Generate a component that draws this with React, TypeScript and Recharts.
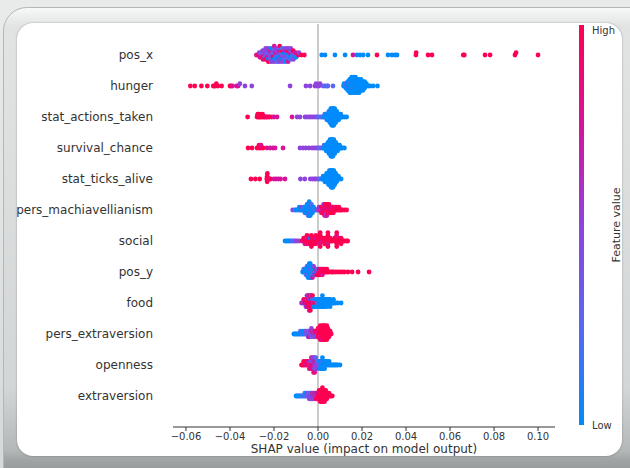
import { ScatterChart, Scatter, XAxis, YAxis, ReferenceLine, Customized } from "recharts";

// SHAP values in thousandths, then feature value bucket: 0 = low ... 4 = high
const posX = [
  [-28, 3],
  [-27, 4], [-26.7, 2], [-26.4, 3],
  [-25.8, 2], [-25.6, 1], [-25.4, 4], [-25.2, 2], [-25, 3],
  [-24.5, 3], [-24.3, 2], [-24.2, 1], [-24.1, 2], [-24, 4], [-23.8, 2],
  [-23.2, 2], [-23.1, 1], [-23, 3], [-22.9, 2], [-22.8, 0], [-22.7, 2], [-22.6, 4],
  [-21.9, 1], [-21.8, 2], [-21.7, 2], [-21.6, 3], [-21.5, 1], [-21.4, 0], [-21.3, 2],
  [-20.6, 2], [-20.5, 1], [-20.4, 4], [-20.3, 2], [-20.2, 0], [-20.1, 1], [-20, 2], [-19.9, 3],
  [-19.3, 2], [-19.2, 3], [-19.1, 1], [-19, 2], [-18.9, 0], [-18.8, 2], [-18.7, 1],
  [-18.1, 1], [-18, 2], [-17.9, 0], [-17.8, 3], [-17.7, 2], [-17.6, 1], [-17.5, 2], [-17.4, 4],
  [-16.8, 2], [-16.7, 1], [-16.6, 2], [-16.5, 4], [-16.4, 0], [-16.3, 1], [-16.2, 2],
  [-15.5, 1], [-15.4, 0], [-15.3, 2], [-15.2, 3], [-15.1, 1], [-15, 2], [-14.9, 0],
  [-14.2, 2], [-14.1, 0], [-14, 1], [-13.9, 4], [-13.8, 1], [-13.7, 2], [-13.6, 3],
  [-12.9, 1], [-12.8, 3], [-12.7, 0], [-12.6, 2], [-12.5, 1], [-12.4, 2],
  [-11.6, 0], [-11.5, 2], [-11.4, 1], [-11.3, 4], [-11.2, 2],
  [-10.3, 1], [-10.1, 3], [-10, 0],
  [-8.9, 4], [-8.7, 2], [-7.5, 4], [-6.2, 4],
  [1.7, 0], [3.2, 0], [7.7, 0], [12.3, 0], [15.9, 3], [17.7, 0], [19.1, 0], [20.5, 0],
  [22.7, 0], [26.8, 4], [31.8, 0], [33.6, 0], [35, 0], [35.9, 0], [44.5, 4], [44.6, 4],
  [50, 4], [51.8, 4], [66, 4], [66.5, 4], [75.9, 4], [78.2, 4], [89.5, 4], [90, 4], [100, 4],
];

const hunger = [
  [-58, 4], [-56, 4], [-53, 4], [-50.3, 4], [-47.6, 4], [-47.2, 4], [-46.5, 4], [-46.2, 4],
  [-45.5, 4], [-43.8, 4], [-40, 4], [-39.5, 4], [-38.8, 3], [-36.9, 3], [-36.3, 3], [-35.5, 2],
  [-33.2, 2], [-30.1, 2],
  [-12.7, 2], [-5.5, 2], [-3.6, 2], [-1.4, 2], [-0.9, 2], [-0.5, 2], [0.4, 2], [0.9, 2],
  [2.3, 1], [3.2, 1], [4.1, 1], [4.5, 1], [6.8, 1],
  [11.6, 0], [11.8, 0],
  [12.4, 0], [12.55, 1], [12.7, 0],
  [13.2, 0], [13.3, 0], [13.4, 1], [13.5, 0], [13.6, 0],
  [14.05, 0], [14.1, 0], [14.2, 0], [14.25, 1], [14.3, 0], [14.4, 0], [14.45, 0],
  [14.9, 0], [15, 0], [15, 0], [15.1, 0], [15.1, 0], [15.2, 0], [15.2, 0], [15.3, 0],
  [15.75, 0], [15.85, 0], [15.9, 1], [15.95, 0], [16, 0], [16, 0], [16.1, 0], [16.15, 0],
  [16.6, 0], [16.7, 0], [16.75, 0], [16.8, 0], [16.85, 0], [16.9, 0], [16.95, 0], [17, 0],
  [17.45, 0], [17.55, 0], [17.6, 0], [17.65, 0], [17.7, 0], [17.8, 0], [17.85, 0],
  [18.3, 0], [18.4, 0], [18.45, 0], [18.5, 0], [18.55, 0], [18.6, 0], [18.7, 0],
  [19.15, 0], [19.25, 0], [19.35, 0], [19.4, 0], [19.5, 0], [19.55, 0],
  [20, 0], [20.1, 0], [20.2, 0], [20.3, 0], [20.4, 0],
  [20.9, 0], [21, 0], [21.1, 0], [21.2, 0],
  [21.8, 0], [22, 0], [22.75, 0], [23.6, 0], [25, 0], [27, 0],
];

const statActionsTaken = [
  [-32, 4], [-27.7, 4], [-27.4, 4], [-27.2, 4], [-27.2, 4], [-26.6, 4], [-26.3, 4], [-26.3, 4],
  [-25.8, 4], [-25.2, 4], [-25.2, 4], [-24.6, 4], [-24.2, 4], [-23.6, 4], [-23.2, 4], [-22.5, 3],
  [-22, 4], [-21, 4], [-20, 3], [-18.6, 3],
  [-11.8, 3], [-9.5, 2], [-8.2, 2], [-5.9, 2], [-5, 2], [-4, 2], [-3.2, 2], [-2.3, 2],
  [-1.4, 2], [-0.5, 2], [0, 1], [0.9, 1], [1.6, 1],
  [2.2, 1], [2.65, 0], [3.1, 0], [3.1, 1], [3.55, 0], [3.55, 0], [4, 0], [4, 0], [4, 1],
  [4.45, 0], [4.45, 0], [4.45, 0], [4.9, 0], [4.9, 0], [4.9, 0], [4.9, 1],
  [5.35, 0], [5.35, 0], [5.35, 0], [5.35, 0], [5.35, 0],
  [5.8, 0], [5.8, 0], [5.8, 0], [5.8, 0], [5.8, 0], [5.8, 0],
  [6.25, 0], [6.25, 0], [6.25, 0], [6.25, 0], [6.25, 0], [6.25, 0], [6.25, 0],
  [6.7, 0], [6.7, 0], [6.7, 0], [6.7, 0], [6.7, 0], [6.7, 0], [6.7, 0],
  [7.15, 0], [7.15, 0], [7.15, 0], [7.15, 0], [7.15, 0], [7.15, 0], [7.15, 0],
  [7.6, 0], [7.6, 0], [7.6, 0], [7.6, 0], [7.6, 0], [7.6, 0],
  [8.05, 0], [8.05, 0], [8.05, 0], [8.05, 0], [8.05, 0],
  [8.5, 0], [8.5, 0], [8.5, 0], [8.5, 0],
  [8.95, 0], [8.95, 0], [8.95, 0], [9.4, 0], [9.4, 0], [9.4, 0],
  [9.85, 0], [9.85, 0], [10.3, 0], [10.3, 0], [10.75, 0], [11.2, 0], [12.1, 0], [13, 0],
];

const survivalChance = [
  [-31.8, 4], [-30, 4], [-27.7, 4], [-26.8, 4], [-26.8, 4], [-25.9, 4], [-25.9, 3], [-25, 4],
  [-23.2, 3], [-21.8, 3], [-20.5, 3], [-19.5, 3], [-15.9, 3],
  [-8.2, 2], [-6.8, 2], [-5.5, 2], [-4.1, 2], [-2.7, 2], [-1.8, 2], [-0.9, 2], [0, 2],
  [0.5, 1], [1.1, 1],
  [1.93, 1], [2.36, 0], [2.8, 0], [2.8, 1], [3.24, 0], [3.24, 0],
  [3.68, 0], [3.68, 0], [3.68, 0], [4.12, 0], [4.12, 0], [4.12, 0],
  [4.55, 0], [4.55, 0], [4.55, 0], [4.55, 0],
  [4.99, 0], [4.99, 0], [4.99, 0], [4.99, 0], [4.99, 0],
  [5.43, 0], [5.43, 0], [5.43, 0], [5.43, 0], [5.43, 0], [5.43, 0],
  [5.87, 0], [5.87, 0], [5.87, 0], [5.87, 0], [5.87, 0], [5.87, 0], [5.87, 0],
  [6.31, 0], [6.31, 0], [6.31, 0], [6.31, 0], [6.31, 0], [6.31, 0], [6.31, 0],
  [6.74, 0], [6.74, 0], [6.74, 0], [6.74, 0], [6.74, 0], [6.74, 0], [6.74, 0],
  [7.18, 0], [7.18, 0], [7.18, 0], [7.18, 0], [7.18, 0], [7.18, 0],
  [7.62, 0], [7.62, 0], [7.62, 0], [7.62, 0], [7.62, 0],
  [8.06, 0], [8.06, 0], [8.06, 0], [8.06, 0], [8.5, 0], [8.5, 0], [8.5, 0],
  [8.93, 0], [8.93, 0], [8.93, 0], [9.37, 0], [9.37, 0], [9.81, 0], [9.81, 0],
  [10.25, 0], [10.69, 0], [11.12, 0], [12, 0],
];

const statTicksAlive = [
  [-30.5, 4], [-28.5, 4], [-26.5, 4], [-23.3, 4], [-23.1, 4], [-23.1, 4], [-23, 4], [-22, 3],
  [-21.5, 4], [-20, 3], [-19, 3], [-18, 3], [-17, 3], [-15, 3],
  [-8, 2], [-6, 2], [-3.5, 2], [-2.5, 2], [-1.5, 2], [-1, 2], [0, 2], [0.6, 1],
  [1.48, 1], [1.89, 0], [2.3, 0], [2.3, 1], [2.71, 0], [2.71, 0],
  [3.12, 0], [3.12, 0], [3.12, 0], [3.53, 0], [3.53, 0], [3.53, 0],
  [3.94, 0], [3.94, 0], [3.94, 0], [3.94, 0], [4.35, 0], [4.35, 0], [4.35, 0], [4.35, 0],
  [4.76, 0], [4.76, 0], [4.76, 0], [4.76, 0], [4.76, 0],
  [5.17, 0], [5.17, 0], [5.17, 0], [5.17, 0], [5.17, 0], [5.17, 0],
  [5.58, 0], [5.58, 0], [5.58, 0], [5.58, 0], [5.58, 0], [5.58, 0],
  [5.99, 0], [5.99, 0], [5.99, 0], [5.99, 0], [5.99, 0], [5.99, 0], [5.99, 0],
  [6.4, 0], [6.4, 0], [6.4, 0], [6.4, 0], [6.4, 0], [6.4, 0], [6.4, 0],
  [6.81, 0], [6.81, 0], [6.81, 0], [6.81, 0], [6.81, 0], [6.81, 0], [6.81, 0],
  [7.22, 0], [7.22, 0], [7.22, 0], [7.22, 0], [7.22, 0], [7.22, 0],
  [7.63, 0], [7.63, 0], [7.63, 0], [7.63, 0], [7.63, 0],
  [8.04, 0], [8.04, 0], [8.04, 0], [8.04, 0], [8.45, 0], [8.45, 0], [8.45, 0],
  [8.86, 0], [8.86, 0], [9.27, 0], [9.27, 0], [9.68, 0], [10.5, 0],
];

const persMachiavellianism = [
  [-11.5, 2], [-10.5, 1], [-10, 0], [-9.25, 0], [-8.5, 1], [-8.5, 0], [-8, 0], [-7.5, 0],
  [-7.5, 2], [-7, 0], [-6.5, 0], [-6.5, 1], [-6, 0], [-6, 0], [-6, 1], [-5.5, 0], [-5.5, 0],
  [-5.5, 0], [-5, 0], [-5, 0], [-5, 0], [-5, 1], [-4.5, 0], [-4.5, 0], [-4.5, 0], [-4.5, 0],
  [-4.5, 1], [-4, 0], [-4, 0], [-4, 2], [-4, 0], [-4, 0], [-4, 0], [-3.5, 0], [-3.5, 0],
  [-3.5, 1], [-3.5, 0], [-3.5, 0], [-3, 0], [-3, 0], [-3, 0], [-3, 1], [-2.5, 0], [-2.5, 1],
  [-2.5, 0], [-2, 0], [-2, 0], [-1.5, 1], [-1, 0], [-0.5, 2],
  [0, 2], [0.5, 2], [0.5, 3], [1, 3], [1, 2], [1.5, 2], [1.5, 4], [1.5, 3], [2, 3], [2, 4],
  [2, 4], [2.5, 4], [2.5, 3], [2.5, 4], [2.5, 2], [3, 3], [3, 4], [3, 4], [3, 3], [3, 4],
  [3.5, 4], [3.5, 3], [3.5, 4], [3.5, 4], [3.5, 2], [4, 4], [4, 4], [4, 2], [4, 4], [4, 3],
  [4.5, 4], [4.5, 3], [4.5, 4], [4.5, 4], [5, 4], [5, 4], [5, 3], [5, 4], [5.5, 3], [5.5, 4],
  [5.5, 4], [6, 4], [6, 4], [6, 4], [6.5, 4], [6.5, 3], [7, 4], [7, 4], [7, 4], [7.5, 4],
  [7.5, 4], [8, 4], [8, 3], [8.5, 4], [8.5, 4], [9, 4], [9.5, 4], [9.5, 4], [10, 4],
  [10.5, 4], [11, 4], [12, 4], [13, 4],
];

const social = [
  [-15, 0], [-14.3, 0], [-13.6, 0], [-13, 0], [-12.3, 0], [-11.6, 1], [-10.9, 1], [-10.2, 2],
  [-9.5, 2], [-8.5, 2],
  [-7.2, 4], [-6.5, 3], [-6.5, 4], [-6, 4], [-6, 4], [-6, 3], [-5.5, 4], [-5.5, 4], [-5, 4],
  [-5, 3], [-5, 4], [-5, 4], [-4.5, 4], [-4, 4], [-4, 4], [-4, 3], [-3.5, 4], [-3.5, 0],
  [-3.5, 4], [-3, 4], [-3, 3], [-3, 4], [-3, 4], [-3, 4], [-2.5, 4], [-2, 4], [-2, 4], [-2, 4],
  [-1.5, 4], [-1.5, 4], [-1, 4], [-1, 3], [-1, 4], [-1, 4], [-0.5, 4], [0, 4], [0, 4],
  [0.5, 4], [1, 4], [1, 4], [1, 3], [1, 4], [1, 4], [1, 4], [1.5, 4], [1.5, 4], [2, 3],
  [2, 4], [2.5, 4], [3, 4], [3, 4], [3, 4], [3.5, 4], [4, 4], [4, 4], [4.5, 4], [4.5, 4],
  [4.5, 3], [4.5, 4], [4.5, 4], [4.5, 4], [5, 4], [5.5, 4], [5.5, 4], [6, 4], [6.5, 4],
  [7.5, 4], [7.5, 4], [8, 4], [8.5, 4], [8.5, 4], [8.5, 4], [8.5, 3], [8.5, 4], [8.5, 4],
  [9, 4], [9.5, 4], [9.5, 4], [10, 4], [10.5, 4], [10.5, 4], [10.5, 4], [11, 4], [11.5, 4],
  [12, 4], [13, 4], [13.5, 4],
];

const posY = [
  [-7, 0], [-6.5, 0], [-6.5, 1], [-6, 0], [-6, 0], [-5.5, 0], [-5.5, 0], [-5.5, 1],
  [-5, 0], [-5, 0], [-5, 0], [-5, 2], [-4.5, 0], [-4.5, 0], [-4.5, 1], [-4.5, 0], [-4.5, 0],
  [-4, 0], [-4, 0], [-4, 0], [-4, 2], [-4, 0], [-4, 0], [-3.5, 0], [-3.5, 1], [-3.5, 0],
  [-3.5, 0], [-3.5, 0], [-3.5, 0], [-3, 0], [-3, 2], [-3, 0], [-3, 0], [-3, 0],
  [-2.5, 0], [-2.5, 0], [-2.5, 1], [-2.5, 0], [-2.5, 3], [-2, 1], [-2, 0], [-2, 0], [-2, 2],
  [-1.5, 2], [-1.5, 0], [-1.5, 3], [-1, 0], [-1, 3], [-1, 2], [-0.5, 2], [-0.5, 0],
  [-0.5, 4], [0, 3], [0, 1], [0, 4],
  [0.5, 3], [0.5, 4], [0.5, 4], [1, 4], [1, 3], [1, 4], [1.5, 3], [1.5, 4], [2, 4], [2, 4],
  [2, 3], [2.5, 4], [2.5, 3], [3, 4], [3, 4], [3.5, 4], [4, 4], [4, 4], [4.5, 4], [5, 4],
  [6, 4], [6.5, 4], [7, 4], [8, 4], [9, 4], [10, 4], [11, 4], [12, 4], [13.6, 4], [15.5, 4],
  [18.2, 4], [23.2, 4],
];

const food = [
  [-7.5, 2], [-7, 3], [-6.5, 2], [-6.5, 4], [-6, 4], [-6, 3], [-5.5, 3], [-5.5, 4], [-5.5, 2],
  [-5, 4], [-5, 2], [-5, 4], [-5, 3], [-4.5, 4], [-4.5, 4], [-4.5, 3], [-4.5, 2], [-4, 4],
  [-4, 3], [-4, 4], [-4, 4], [-4, 2], [-3.5, 4], [-3.5, 2], [-3.5, 4], [-3.5, 3], [-3.5, 4],
  [-3, 4], [-3, 4], [-3, 3], [-3, 2], [-2.5, 3], [-2.5, 0], [-2.5, 4], [-2.5, 4], [-2, 4],
  [-2, 2], [-2, 0], [-1.5, 3], [-1.5, 0], [-1.5, 0], [-1, 4], [-1, 0], [-1, 0], [-0.5, 2],
  [-0.5, 0], [0, 1], [0, 0], [0, 0],
  [0.5, 0], [0.5, 0], [1, 0], [1, 0], [1, 0], [1.5, 0], [1.5, 0], [1.5, 0], [2, 0], [2, 0],
  [2, 0], [2, 0], [2.5, 0], [2.5, 0], [2.5, 0], [3, 0], [3, 0], [3, 0], [3.5, 0], [3.5, 0],
  [4, 0], [4, 0], [4, 0], [4.5, 0], [4.5, 0], [5, 0], [5, 0], [5.5, 0], [5.5, 0], [5.5, 0],
  [6, 0], [6.5, 0], [7, 0], [7, 0], [7.5, 0], [8, 0], [9, 0], [10.5, 0],
];

const persExtraversion = [
  [-11, 0], [-10.5, 0], [-10, 0], [-9.5, 0], [-9, 0], [-8.5, 0], [-8, 0], [-8, 1], [-7.5, 0],
  [-7, 1], [-7, 0], [-6.5, 0], [-6, 1], [-6, 0], [-5.5, 1], [-5.5, 2],
  [-5, 2], [-5, 1], [-4.5, 1], [-4.5, 2], [-4.5, 2], [-4, 2], [-4, 1], [-4, 3], [-3.5, 2],
  [-3.5, 2], [-3, 2], [-3, 3], [-3, 1], [-3, 2], [-2.5, 2], [-2.5, 3], [-2, 3], [-2, 2],
  [-2, 2], [-1.5, 2], [-1.5, 3], [-1, 3], [-1, 4], [-1, 2], [-0.5, 2], [-0.5, 4],
  [0, 4], [0, 3], [0, 4], [0, 4], [0.5, 4], [0.5, 4], [0.5, 4], [0.5, 3],
  [1, 4], [1, 4], [1, 3], [1, 4], [1, 4], [1, 4], [1.5, 4], [1.5, 4], [1.5, 4], [1.5, 4],
  [1.5, 4], [2, 4], [2, 4], [2, 4], [2, 4], [2, 3], [2, 4], [2.5, 4], [2.5, 4], [2.5, 4],
  [2.5, 4], [2.5, 4], [2.5, 4], [3, 4], [3, 4], [3, 4], [3, 4], [3, 4], [3, 4], [3.5, 4],
  [3.5, 4], [3.5, 4], [3.5, 4], [3.5, 4], [4, 4], [4, 4], [4, 4], [4, 4], [4, 4], [4, 4],
  [4.5, 4], [4.5, 4], [4.5, 4], [4.5, 4], [5, 4], [5, 4], [5, 4], [5.5, 4], [5.5, 4], [6, 4],
];

const openness = [
  [-7.5, 4], [-7, 4], [-6.5, 4], [-6.5, 4], [-6, 4], [-5.5, 3], [-5.5, 4], [-5, 4], [-5, 4],
  [-4.5, 4], [-4.5, 3], [-4, 3], [-4, 4], [-4, 2], [-3.5, 3], [-3.5, 2], [-3.5, 4],
  [-3, 3], [-3, 2], [-3, 3], [-3, 4], [-2.5, 4], [-2.5, 2], [-2.5, 3], [-2.5, 2],
  [-2, 3], [-2, 2], [-2, 3], [-2, 2], [-2, 4], [-1.5, 2], [-1.5, 3], [-1.5, 1], [-1.5, 2],
  [-1.5, 3], [-1, 2], [-1, 3], [-1, 2], [-1, 1], [-0.5, 2], [-0.5, 1], [-0.5, 2], [0, 2],
  [0, 1], [0.5, 1], [0.5, 0], [1, 1], [1, 0], [1, 0],
  [1.5, 0], [1.5, 0], [1.5, 0], [2, 0], [2, 1], [2, 0], [2, 0], [2.5, 0], [2.5, 0], [2.5, 0],
  [3, 0], [3, 0], [3, 0], [3.5, 0], [3.5, 0], [4, 0], [4, 0], [4.5, 0], [4.5, 0], [5, 0],
  [5, 0], [5.5, 0], [6, 0], [6.5, 0], [7, 0], [7.5, 0], [8, 0], [8.5, 0], [9, 0], [10, 0],
];

const extraversion = [
  [-10, 0], [-9.5, 0], [-9, 0], [-8.5, 0], [-8, 0], [-7.5, 1], [-7, 0], [-6.5, 1], [-6, 0],
  [-6, 1], [-5.5, 1], [-5.5, 0],
  [-5, 2], [-5, 1], [-4.5, 1], [-4.5, 2], [-4, 2], [-4, 1], [-4, 2], [-3.5, 2], [-3.5, 1],
  [-3, 2], [-3, 1], [-3, 2], [-2.5, 2], [-2.5, 3], [-2.5, 2], [-2, 3], [-2, 2], [-2, 2],
  [-1.5, 2], [-1.5, 3], [-1, 3], [-1, 2], [-1, 4], [-0.5, 2], [-0.5, 4], [-0.5, 3],
  [0, 4], [0, 3], [0, 4], [0.5, 4], [0.5, 4], [0.5, 3], [0.5, 4], [1, 4], [1, 4], [1, 4],
  [1, 4], [1, 4], [1.5, 4], [1.5, 3], [1.5, 4], [1.5, 4], [1.5, 4], [2, 4], [2, 4], [2, 4],
  [2, 4], [2, 4], [2, 4], [2.5, 4], [2.5, 4], [2.5, 4], [2.5, 4], [2.5, 4], [3, 4], [3, 4],
  [3, 4], [3, 4], [3, 4], [3.5, 4], [3.5, 4], [3.5, 4], [3.5, 4], [4, 4], [4, 4], [4, 4],
  [4.5, 4], [4.5, 4], [5, 4], [5, 4], [5.5, 4], [6, 4], [6.5, 4],
];

const features = [
  "pos_x", "hunger", "stat_actions_taken", "survival_chance", "stat_ticks_alive",
  "pers_machiavellianism", "social", "pos_y", "food", "pers_extraversion", "openness",
  "extraversion",
];
const shapRows = [
  posX, hunger, statActionsTaken, survivalChance, statTicksAlive, persMachiavellianism,
  social, posY, food, persExtraversion, openness, extraversion,
];
const xTicks = [-0.06, -0.04, -0.02, 0, 0.02, 0.04, 0.06, 0.08, 0.1];
const rowTicks = [0, 1, 2, 3, 4, 5, 6, 7, 8, 9, 10, 11];

const palette = ["#008bfb", "#5a67f2", "#8f43dd", "#d6139a", "#ff0052"];

// shap-style beeswarm: bin the values, stack points of a bin alternately up/down
function swarm(vals: number[]) {
  const lo = Math.min(...vals);
  const hi = Math.max(...vals);
  const quant = vals.map((v) => Math.round((100 * (v - lo)) / (hi - lo + 1e-8)));
  const order = vals.map((_, i) => i).sort((a, b) => quant[a] - quant[b] || a - b);
  const ys = vals.map(() => 0);
  let layer = 0;
  let last = -1;
  for (const i of order) {
    if (quant[i] !== last) layer = 0;
    ys[i] = Math.ceil(layer / 2) * ((layer % 2) * 2 - 1);
    layer++;
    last = quant[i];
  }
  const m = Math.max(...ys) + 1;
  return ys.map((y) => (y * 0.9 * 0.4) / m);
}

const points = shapRows.flatMap((row, i) => {
  const offs = swarm(row.map((p) => p[0]));
  const base = features.length - 1 - i;
  return row.map((p, j) => ({ x: p[0] / 1000, y: base + offs[j], c: p[1] }));
});

const fmtX = (v: number) => (v < 0 ? "\u2212" + Math.abs(v).toFixed(2) : v.toFixed(2));

const Dot = (props: any) => (
  <circle cx={props.cx} cy={props.cy} r={2.4} fill={palette[props.payload.c]} />
);

const ColorBar = () => (
  <g>
    <defs>
      <linearGradient id="cbar" x1="0" y1="1" x2="0" y2="0">
        {palette.map((c, i) => (
          <stop key={c} offset={`${i * 25}%`} stopColor={c} />
        ))}
      </linearGradient>
    </defs>
    <rect x={579} y={25} width={5} height={400} fill="url(#cbar)" />
    <text x={592} y={30} fontSize={10} fill="#333" dominantBaseline="central">High</text>
    <text x={592} y={425} fontSize={10} fill="#333" dominantBaseline="central">Low</text>
    <text
      x={616}
      y={225}
      fontSize={11}
      fill="#333"
      textAnchor="middle"
      dominantBaseline="central"
      transform="rotate(-90 616 225)"
    >
      Feature value
    </text>
  </g>
);

export default function App() {
  return (
    <div
      style={{
        position: "absolute",
        left: 0,
        top: 0,
        width: 630,
        height: 468,
        overflow: "hidden",
        background: "linear-gradient(180deg, #e9ebeb, #d6d9d9)",
        fontFamily: "DejaVu Sans",
      }}
    >
      <div
        style={{
          position: "absolute",
          left: 3,
          top: 7,
          width: 660,
          height: 500,
          borderRadius: 24,
          border: "1px solid #b3b7b7",
          background:
            "linear-gradient(180deg, #f7f8f8 0px, #e2e4e4 18px, #d3d6d6 380px, #b4b8b8 442px, #a0a4a4 452px, #8f9393 470px)",
        }}
      />
      <div
        style={{
          position: "absolute",
          left: 17,
          top: 23,
          width: 605,
          height: 433,
          borderRadius: 16,
          background: "#fff",
          overflow: "hidden",
          boxShadow: "0 0 2px rgba(0,0,0,0.35)",
        }}
      >
        <div style={{ position: "absolute", left: -17, top: -23 }}>
          <ScatterChart
            width={630}
            height={468}
            margin={{ top: 24, right: 75, bottom: 1, left: 13 }}
          >
            <ReferenceLine x={0} stroke="#999999" />
            <XAxis
              type="number"
              dataKey="x"
              domain={[-0.0659, 0.1077]}
              allowDataOverflow
              ticks={xTicks}
              interval={0}
              tickFormatter={fmtX}
              tick={{ fill: "#333", fontSize: 10 }}
              tickSize={4}
              tickMargin={2}
              stroke="#333"
              height={40}
              label={{
                value: "SHAP value (impact on model output)",
                position: "insideBottom",
                offset: 14,
                fill: "#333",
                fontSize: 12,
              }}
            />
            <YAxis
              type="number"
              dataKey="y"
              domain={[-1, 12]}
              allowDataOverflow
              ticks={rowTicks}
              interval={0}
              tickFormatter={(v: number) => features[features.length - 1 - v]}
              axisLine={false}
              tickLine={false}
              tickSize={0}
              tickMargin={20}
              width={160}
              tick={{ fill: "#333", fontSize: 12 }}
            />
            <Scatter data={points} shape={Dot} isAnimationActive={false} />
            <Customized component={ColorBar} />
          </ScatterChart>
        </div>
      </div>
    </div>
  );
}
